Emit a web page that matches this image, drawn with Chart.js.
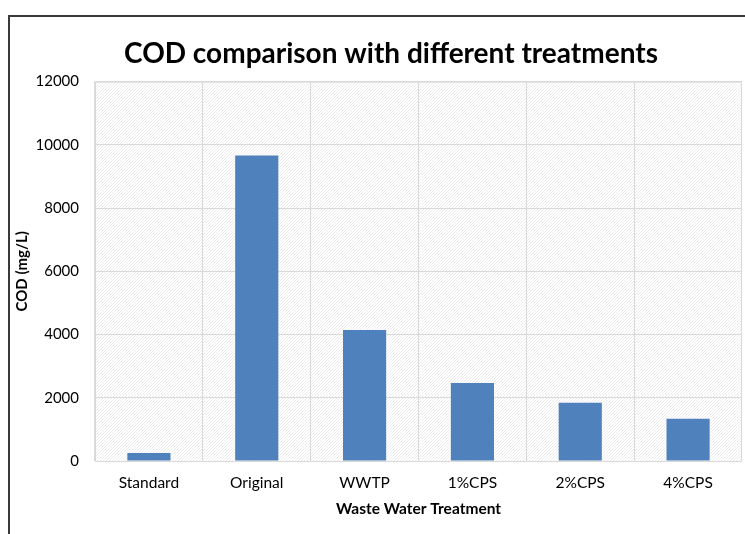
<!DOCTYPE html>
<html>
<head>
<meta charset="utf-8">
<script src="https://cdn.jsdelivr.net/npm/chart.js@4"></script>
<style>
  html, body { margin: 0; padding: 0; background: #fff; }
  #wrap { width: 745px; height: 534px; }
</style>
</head>
<body>
<div id="wrap"><canvas id="codChart"></canvas></div>
<script>
const categories = ['Standard', 'Original', 'WWTP', '1%CPS', '2%CPS', '4%CPS'];
const codValues = [250, 9660, 4140, 2470, 1840, 1340];
const yTicks = [0, 2000, 4000, 6000, 8000, 10000, 12000];

const FONT = 'Lato, "Open Sans", sans-serif';

// faint diagonal hatch like the plot area fill
function makeHatch(target) {
    const c = document.createElement('canvas');
    c.width = 3; c.height = 3;
    const g = c.getContext('2d');
    g.fillStyle = '#ffffff';
    g.fillRect(0, 0, 3, 3);
    g.fillStyle = '#ececec';
    for (let i = 0; i < 3; i++) g.fillRect(i, 2 - i, 1, 1);
    return target.createPattern(c, 'repeat');
}

const plotFill = {
    id: 'plotFill',
    afterLayout(chart) {
        // title sits a little right of the canvas centre in the original
        if (chart.titleBlock) {
            chart.titleBlock.left += 15;
            chart.titleBlock.right += 15;
        }
    },
    beforeDraw(chart) {
        const { ctx, chartArea: a } = chart;
        ctx.save();
        ctx.fillStyle = makeHatch(ctx);
        ctx.fillRect(a.left, a.top, a.right - a.left, a.bottom - a.top);
        ctx.restore();
    },
    afterDraw(chart) {
        const { ctx, chartArea: a } = chart;
        ctx.save();
        // outer frame (cut off on the right and bottom)
        ctx.strokeStyle = '#3a3a3a';
        ctx.lineWidth = 2;
        ctx.strokeRect(9, 16, 800, 600);
        // plot border
        ctx.strokeStyle = '#d9d9d9';
        ctx.lineWidth = 1;
        ctx.strokeRect(a.left + 0.5, a.top + 0.5, a.right - a.left - 1, a.bottom - a.top);
        ctx.restore();
    }
};

const ctx = document.getElementById('codChart').getContext('2d');

let codChart = new Chart(ctx, {
    type: 'bar',
    data: {
        labels: categories,
        datasets: [{
            label: 'COD',
            data: codValues,
            backgroundColor: '#4f81bd',
            borderWidth: 0,
            barPercentage: 0.4,
            categoryPercentage: 1
        }]
    },
    options: {
        responsive: true,
        maintainAspectRatio: false,
        animation: false,
        layout: { padding: { left: 10, right: 3, top: 20, bottom: 12 } },
        plugins: {
            legend: { display: false },
            tooltip: { enabled: false },
            title: {
                display: true,
                text: 'COD comparison with different treatments',
                color: '#000',
                font: { family: FONT, size: 28, weight: 'bold' },
                padding: { top: 17, bottom: 11 }
            }
        },
        scales: {
            x: {
                grid: { color: '#d9d9d9', drawTicks: false, offset: true },
                border: { display: false },
                ticks: { color: '#000', font: { family: FONT, size: 15.5 }, padding: 13 },
                title: {
                    display: true,
                    text: 'Waste Water Treatment',
                    color: '#000',
                    font: { family: FONT, size: 15.5, weight: 'bold' },
                    padding: { top: 8 }
                },
                afterFit(s) { s.height = 534 - 461 - 12; }
            },
            y: {
                min: 0,
                max: 12000,
                afterBuildTicks(s) { s.ticks = yTicks.map(v => ({ value: v })); },
                grid: { color: '#d9d9d9', drawTicks: false },
                border: { display: false },
                ticks: {
                    color: '#000',
                    font: { family: FONT, size: 15 },
                    padding: 16,
                    callback: v => String(v)
                },
                title: {
                    display: true,
                    text: 'COD (mg/L)',
                    color: '#000',
                    font: { family: FONT, size: 15, weight: 'bold' },
                    padding: { top: 3, bottom: 0 }
                },
                afterFit(s) { s.width = 85; }
            }
        }
    },
    plugins: [plotFill]
});
</script>
</body>
</html>
